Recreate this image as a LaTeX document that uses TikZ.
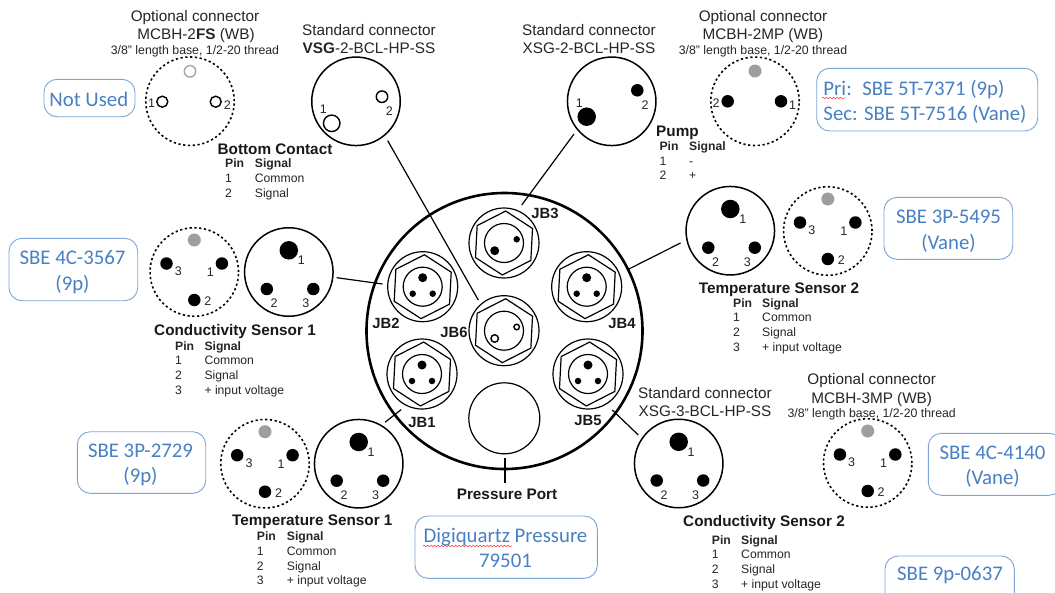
\documentclass[tikz,border=0pt]{standalone}
\usepackage{fontspec}
\setmainfont{Liberation Sans}
\newfontfamily\cali{Carlito}
\usetikzlibrary{shapes.geometric,decorations.pathmorphing}
\definecolor{noteline}{RGB}{125,165,215}
\definecolor{notetext}{RGB}{72,128,196}
\tikzset{
 x=1pt,y=-1pt,
 solidc/.style={circle,draw=black,line width=1.5pt,minimum size=88.5pt,inner sep=0pt,fill=white},
 dashc/.style={circle,draw=black,line width=1.6pt,dash pattern=on 2.2pt off 2.6pt,minimum size=88.5pt,inner sep=0pt},
 pinblack/.style={circle,fill=black,draw=none,inner sep=0pt,minimum size=#1},
 pinopen/.style={circle,fill=white,draw=black,line width=1.4pt,inner sep=0pt,minimum size=#1},
 pingray/.style={circle,draw=none,fill=black!38,inner sep=0pt,minimum size=#1},
 num/.style={inner sep=0pt,text height=9pt,text depth=0pt,font=\fontsize{12.5}{12}\selectfont,text=black!85},
 head/.style={inner sep=0pt,text height=11pt,text depth=1pt,font=\fontsize{15.3}{15}\selectfont,text=black!85},
 small/.style={inner sep=0pt,text height=9pt,text depth=1pt,font=\fontsize{12.3}{12}\selectfont,text=black!85},
 ttl/.style={inner sep=0pt,text height=11pt,text depth=1pt,font=\bfseries\fontsize{15.3}{15}\selectfont,text=black!90},
 tbl/.style={inner sep=0pt,text height=9pt,text depth=1pt,anchor=west,font=\fontsize{12.2}{12}\selectfont,text=black!85},
 tblb/.style={tbl,font=\bfseries\fontsize{12.2}{12}\selectfont},
 jb/.style={inner sep=0pt,text height=11pt,text depth=0pt,font=\bfseries\fontsize{14.8}{14}\selectfont,text=black!90},
 notebox/.style={draw=noteline,line width=0.9pt,rounded corners=13pt,inner sep=0pt,fill=white},
 notetxt/.style={inner sep=0pt,align=center,text=notetext,font=\cali\fontsize{20.8}{25.5}\selectfont},
 wire/.style={draw=black,line width=1.2pt},
 sockring/.style={circle,draw=black,line width=1.2pt,minimum size=70pt,inner sep=0pt},
 sockhex/.style={regular polygon,regular polygon sides=6,draw=black,line width=1.2pt,minimum size=64pt,inner sep=0pt,rotate=27},
 sockin/.style={circle,draw=black,line width=1.2pt,minimum size=39pt,inner sep=0pt},
}
% note: name, x0, y0, x1, y1, text x, text y, text
\newcommand{\note}[8]{%
 \node[notebox,minimum width=#4pt-#2pt,minimum height=#5pt-#3pt] (#1) at ({(#2+#4)/2},{(#3+#5)/2}) {};
 \node[notetxt] (#1t) at (#6,#7) {#8};
}
\newcommand{\socket}[3]{%
 \node[sockring] (#1) at (#2,#3) {};
 \node[sockhex] (#1h) at (#2,#3) {};
 \node[sockin] (#1i) at (#2,#3) {};
}
\newcommand{\threepin}[3]{%
 \socket{#1}{#2}{#3}
 \node[pinblack=9pt] (#1a) at (#2,#3-9) {};
 \node[pinblack=6.5pt] (#1b) at (#2-10,#3+7) {};
 \node[pinblack=6.5pt] (#1c) at (#2+10,#3+7) {};
}
\newcommand{\dashthree}[3]{%
 \node[dashc] (#1) at (#2,#3) {};
 \node[pingray=13pt] (#1t) at (#2,#3-32) {};
 \node[pinblack=12.5pt] (#1l) at (#2-27.8,#3-8.5) {};
 \node[pinblack=12.5pt] (#1r) at (#2+27.6,#3-8.5) {};
 \node[pinblack=12.5pt] (#1b) at (#2,#3+28) {};
 \node[num] (#1n3) at (#2-16,#3-1) {3};
 \node[num] (#1n1) at (#2+16,#3) {1};
 \node[num] (#1n2) at (#2+13.5,#3+29) {2};
}
\newcommand{\solidthree}[3]{%
 \node[solidc] (#1) at (#2,#3) {};
 \node[pinblack=18.5pt] (#1t) at (#2,#3-21.7) {};
 \node[pinblack=12.5pt] (#1l) at (#2-22,#3+17) {};
 \node[pinblack=12.5pt] (#1r) at (#2+24.5,#3+17) {};
 \node[num] (#1n1) at (#2+12.5,#3-12) {1};
 \node[num] (#1n2) at (#2-14.7,#3+31) {2};
 \node[num] (#1n3) at (#2+17,#3+31) {3};
}
\newcommand{\tablethree}[4]{%
 \node[tblb] (#1p) at (#2,#4) {Pin};
 \node[tblb] (#1s) at (#3,#4) {Signal};
 \node[tbl] (#1a) at (#2,#4+14.7) {1};
 \node[tbl] (#1b) at (#3,#4+14.7) {Common};
 \node[tbl] (#1c) at (#2,#4+29.3) {2};
 \node[tbl] (#1d) at (#3,#4+29.3) {Signal};
 \node[tbl] (#1e) at (#2,#4+44) {3};
 \node[tbl] (#1f) at (#3,#4+44) {+ input voltage};
}
\begin{document}
\begin{tikzpicture}
\useasboundingbox (0,0) rectangle (1055,592);
\clip (0,0) rectangle (1055,592);
\fill[white] (0,0) rectangle (1055,592);

% main body
\node[circle,draw=black,line width=2.6pt,minimum size=276pt,inner sep=0pt] (body) at (504.5,331) {};
\socket{jbiii}{504}{243}
\node[pinblack=9pt] (jbiiia) at (494.7,250.7) {};
\node[pinblack=6.5pt] (jbiiib) at (516.7,239.3) {};
\threepin{jbii}{422.7}{286.7}
\threepin{jbi}{422}{374}
\threepin{jbiv}{586.7}{286.7}
\threepin{jbv}{588}{374}
\socket{jbvi}{504}{330.7}
\node[pinopen=7.5pt] (jbvia) at (494.7,338.5) {};
\node[pinopen=5.5pt] (jbvib) at (516.7,327) {};
\node[circle,draw=black,line width=1.2pt,minimum size=71pt,inner sep=0pt] (port) at (504.3,418.3) {};

\node[jb] (ljbiii) at (545,213) {JB3};
\node[jb] (ljbii) at (386,323) {JB2};
\node[jb] (ljbvi) at (454,332) {JB6};
\node[jb] (ljbiv) at (622,323) {JB4};
\node[jb] (ljbi) at (422,422) {JB1};
\node[jb] (ljbv) at (588,420) {JB5};
\node[ttl] (lport) at (507,494) {Pressure Port};

% outer connectors, top row
\node[dashc] (fs) at (190,101.2) {};
\node[circle,draw=black!35,line width=1.4pt,inner sep=0pt,minimum size=11.5pt] (fst) at (190,71.3) {};
\node[pinopen=11pt] (fsa) at (162.3,101.7) {};
\node[pinopen=11pt] (fsb) at (215.7,101.7) {};
\node[num] (fsn1) at (151.7,103.3) {1};
\node[num] (fsn2) at (227.3,105.3) {2};

\node[solidc] (vsg) at (356,101.3) {};
\node[pinopen=16.5pt] (vsga) at (331.7,123.3) {};
\node[pinopen=11.5pt] (vsgb) at (382,96.7) {};
\node[num] (vsgn1) at (323.3,109.3) {1};
\node[num] (vsgn2) at (389.3,110.7) {2};

\node[solidc] (xsg) at (611.7,101.3) {};
\node[pinblack=18.5pt] (xsga) at (586.7,116.7) {};
\node[pinblack=12.5pt] (xsgb) at (637.3,90.3) {};
\node[num] (xsgn1) at (579.3,103.3) {1};
\node[num] (xsgn2) at (645,105) {2};

\node[dashc] (mp) at (755,101.3) {};
\node[pingray=13pt] (mpt) at (755,71) {};
\node[pinblack=12.5pt] (mpa) at (727.7,101.3) {};
\node[pinblack=12.5pt] (mpb) at (781,101.3) {};
\node[num] (mpn2) at (716,103.3) {2};
\node[num] (mpn1) at (792.7,104.7) {1};

% remaining connectors
\solidthree{ts2}{730.3}{230.7}
\dashthree{ts2d}{827.8}{231}
\solidthree{cs1}{288.8}{272}
\dashthree{cs1d}{194.3}{272}
\solidthree{ts1}{358.7}{463.7}
\dashthree{ts1d}{265}{463.7}
\solidthree{cs2}{678.7}{463.5}
\dashthree{cs2d}{867.7}{463}

% leader wires
\coordinate (wvsg) at (387.7,140.7); \coordinate (wjbvi) at (478.3,300);
\coordinate (wxsg) at (574,134); \coordinate (wjbiii) at (521.7,205);
\coordinate (wcs) at (336.7,277.7); \coordinate (wjbii) at (382.5,284);
\coordinate (wts) at (680.5,243); \coordinate (wjbiv) at (628.3,269.3);
\coordinate (wtsi) at (385,422.3); \coordinate (wjbi) at (401.2,409.6);
\coordinate (wcsii) at (638.3,435); \coordinate (wjbv) at (612.3,410);
\coordinate (wport) at (505,482.7); \coordinate (wporttop) at (505,458);
\draw[wire] (wvsg) -- (wjbvi);
\draw[wire] (wxsg) -- (wjbiii);
\draw[wire] (wcs) -- (wjbii);
\draw[wire] (wts) -- (wjbiv);
\draw[wire] (wtsi) -- (wjbi);
\draw[wire] (wcsii) -- (wjbv);
\draw[wire] (wporttop) -- (wport);

% headings
\node[head] (ha) at (195,16) {Optional connector};
\node[head] (hb) at (196,34) {MCBH-2\textbf{FS} (WB)};
\node[small] (hc) at (195,50) {3/8" length base, 1/2-20 thread};
\node[head] (hd) at (369,30) {Standard connector};
\node[head] (he) at (369,48.5) {\textbf{VSG}-2-BCL-HP-SS};
\node[head] (hf) at (589,30) {Standard connector};
\node[head] (hg) at (589,48.5) {XSG-2-BCL-HP-SS};
\node[head] (hh) at (763,16) {Optional connector};
\node[head] (hi) at (763,34) {MCBH-2MP (WB)};
\node[small] (hj) at (763,50) {3/8" length base, 1/2-20 thread};
\node[head] (hk) at (871.7,379.3) {Optional connector};
\node[head] (hl) at (871.7,398.3) {MCBH-3MP (WB)};
\node[small] (hm) at (871.7,413.3) {3/8" length base, 1/2-20 thread};
\node[head] (hn) at (705,393.3) {Standard connector};
\node[head] (ho) at (705,411.7) {XSG-3-BCL-HP-SS};

% tables
\node[ttl] (tbc) at (275,149.3) {Bottom Contact};
\node[tblb] (tbcp) at (225,163.7) {Pin};
\node[tblb] (tbcs) at (254.7,163.7) {Signal};
\node[tbl] (tbca) at (225,178.3) {1};
\node[tbl] (tbcb) at (254.7,178.3) {Common};
\node[tbl] (tbcc) at (225,193) {2};
\node[tbl] (tbcd) at (254.7,193) {Signal};

\node[ttl,anchor=west] (tpu) at (656,131) {Pump};
\node[tblb] (tpup) at (659.3,146) {Pin};
\node[tblb] (tpus) at (689,146) {Signal};
\node[tbl] (tpua) at (659.3,161) {1};
\node[tbl] (tpub) at (689,161) {-};
\node[tbl] (tpuc) at (659.3,175) {2};
\node[tbl] (tpud) at (689,175) {+};

\node[ttl] (tts) at (779,288) {Temperature Sensor 2};
\tablethree{ttsr}{733}{762}{303}
\node[ttl] (tcs) at (235,330) {Conductivity Sensor 1};
\tablethree{tcsr}{175}{204.3}{346}
\node[ttl] (ttu) at (312.3,520) {Temperature Sensor 1};
\tablethree{ttur}{256.7}{286.7}{536.7}
\node[ttl] (tcu) at (764,521.7) {Conductivity Sensor 2};
\tablethree{tcur}{711.7}{741}{540}

% blue notes
\note{na}{44}{79.3}{135}{116.7}{88.8}{99}{Not Used}
\note{nb}{816.7}{68.3}{1037.7}{131}{925}{103}{\begin{tabular}{@{}l@{}}Pri:\hspace{10.5pt}SBE 5T-7371 (9p)\\[-0.6pt]Sec: SBE 5T-7516 (Vane)\end{tabular}}
\note{nc}{884}{197.3}{1012.7}{259.3}{948.5}{231}{SBE 3P-5495\\(Vane)}
\note{nd}{9}{238.3}{137.7}{300.7}{72.5}{272}{SBE 4C-3567\\(9p)}
\note{ne}{77.3}{431.7}{205.7}{493.3}{140.5}{465}{SBE 3P-2729\\(9p)}
\note{nf}{415}{516}{597.3}{578.3}{505.5}{548}{Digiquartz Pressure\\79501}
\note{ng}{928.3}{433.3}{1062}{495.3}{992.5}{466.5}{SBE 4C-4140\\(Vane)}
\note{nh}{885}{556}{1014.3}{606}{950}{575}{SBE 9p-0637}
\coordinate (sqa) at (423,546); \coordinate (sqb) at (511.5,546);
\draw[red!75,line width=0.6pt,decorate,decoration={snake,amplitude=0.8pt,segment length=3.5pt}] (sqa) -- (sqb);
\coordinate (sqc) at (822,98); \coordinate (sqd) at (845,98);
\draw[red!75,line width=0.6pt,decorate,decoration={snake,amplitude=0.8pt,segment length=3.5pt}] (sqc) -- (sqd);
\end{tikzpicture}
\end{document}
